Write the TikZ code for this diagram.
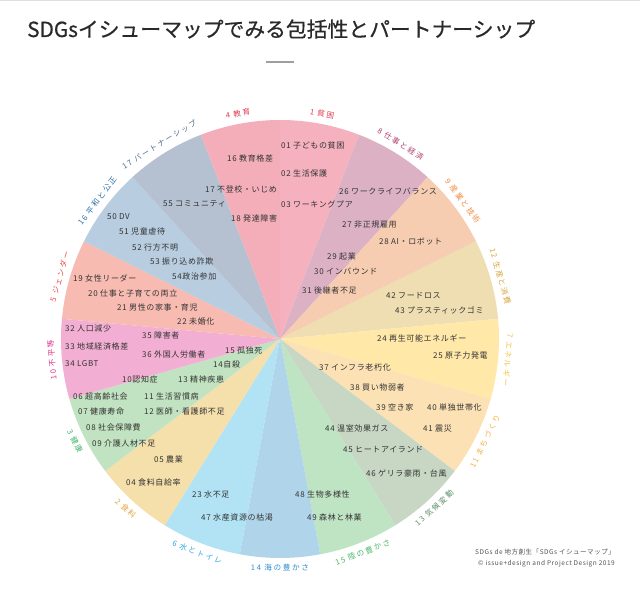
\documentclass[tikz,border=0pt]{standalone}
\usepackage{fontspec}
\setmainfont{Noto Sans CJK JP}
\newfontfamily\spacedfont[LetterSpace=8]{Noto Sans CJK JP}
\newfontfamily\widefont[LetterSpace=22]{Noto Sans CJK JP}
\newfontfamily\titlefont[FakeBold=0.5]{Noto Sans CJK JP}
\usetikzlibrary{calc, positioning}

%% sector fills
\definecolor{s1}{HTML}{F5B1BD}
\definecolor{s4}{HTML}{F4AEBA}
\definecolor{s8}{HTML}{DCB1C4}
\definecolor{s9}{HTML}{F7CDB1}
\definecolor{s12}{HTML}{EEDEB2}
\definecolor{s7}{HTML}{FFE8A8}
\definecolor{s11}{HTML}{FBE1B4}
\definecolor{s13}{HTML}{C7D7C4}
\definecolor{s15}{HTML}{BFE4C4}
\definecolor{s14}{HTML}{B0D5EB}
\definecolor{s6}{HTML}{B2E3F4}
\definecolor{s2}{HTML}{F5E0AB}
\definecolor{s3}{HTML}{C2E3C2}
\definecolor{s10}{HTML}{F3AFD3}
\definecolor{s5}{HTML}{F8BBB2}
\definecolor{s16}{HTML}{B8CDE0}
\definecolor{s17}{HTML}{B5C0D1}
%% goal label colours
\definecolor{l1}{HTML}{E23A4F}
\definecolor{l4}{HTML}{E23A4F}
\definecolor{l8}{HTML}{B0426E}
\definecolor{l9}{HTML}{F08A3C}
\definecolor{l12}{HTML}{D9A43C}
\definecolor{l7}{HTML}{F5C33A}
\definecolor{l11}{HTML}{F2B040}
\definecolor{l13}{HTML}{5E8F6A}
\definecolor{l15}{HTML}{4DB86A}
\definecolor{l14}{HTML}{2F8ED1}
\definecolor{l6}{HTML}{2FA8DF}
\definecolor{l2}{HTML}{E8A33D}
\definecolor{l3}{HTML}{3DB36B}
\definecolor{l10}{HTML}{E0358A}
\definecolor{l5}{HTML}{E8453C}
\definecolor{l16}{HTML}{2A6EA8}
\definecolor{l17}{HTML}{4C6E8E}
\definecolor{ink}{HTML}{333333}

\begin{document}
\begin{tikzpicture}[
    x=1pt, y=1pt,
    item/.style={anchor=west, inner sep=0pt, text=ink,
        font=\spacedfont\fontsize{8}{9}\selectfont},
    goal/.style={inner sep=0pt, font=\widefont\fontsize{7.6}{9}\selectfont},
    foot/.style={inner sep=0pt, text=ink!85, font=\spacedfont\fontsize{6.5}{8}\selectfont}
]
    \fill[white] (0,0) rectangle (640,-599);
    \useasboundingbox (0,0) rectangle (640,-599);
    \draw[gray!25] (0,-0.5) -- (640,-0.5);

    %% --- Title ---
    \node[anchor=base west, inner sep=0pt, text=ink!80!black,
          font=\titlefont\fontsize{20.8}{24}\selectfont] (title) at (27,-37)
          {SDGsイシューマップでみる包括性とパートナーシップ};
    \coordinate (d1) at (266,-62);
    \coordinate (d2) at (294,-62);
    \draw[line width=2pt, gray!75] (d1) -- (d2);

    %% --- Sectors and goal labels ---
    \coordinate (c) at (280,-339);
    \foreach \g/\lab [count=\k from 0] in {1/1 貧困, 8/8 仕事と経済, 9/9 産業と技術,
        12/12 生産と消費, 7/7 エネルギー, 11/11 まちづくり, 13/13 気候変動,
        15/15 陸の豊かさ, 14/14 海の豊かさ, 6/6 水とトイレ, 2/2 食料, 3/3 健康,
        10/10 不平等, 5/5 ジェンダー, 16/16 平和と公正, 17/17 パートナーシップ, 4/4 教育} {
        \pgfmathsetmacro\a{90-\k*360/17}
        \pgfmathsetmacro\b{90-(\k+1)*360/17}
        \pgfmathsetmacro\m{(\a+\b)/2}
        \pgfmathsetmacro\r{(\m<-15 && \m>-165) ? \m+90 : \m-90}
        \fill[s\g] (c) -- ($(c)+(\a:219)$) arc[start angle=\a, end angle=\b, radius=219] -- cycle;
        \node[goal, text=l\g, rotate=\r] (g\g) at ($(c)+(\m:229)$) {\lab};
    }

    %% --- Issues: top ---
    \node[item] (t01) at (281,-145) {01 子どもの貧困};
    \node[item] (t02) at (281,-173) {02 生活保護};
    \node[item] (t03) at (281,-204) {03 ワーキングプア};
    \node[item] (t16) at (227,-158) {16 教育格差};
    \node[item] (t17) at (205,-189) {17 不登校・いじめ};
    \node[item] (t18) at (231,-218) {18 発達障害};
    \node[item] (t55) at (163,-204) {55 コミュニティ};

    %% --- Issues: upper right ---
    \node[item] (t26) at (339,-191) {26 ワークライフバランス};
    \node[item] (t27) at (342,-225) {27 非正規雇用};
    \node[item] (t28) at (379,-242) {28 AI・ロボット};
    \node[item] (t29) at (327,-256) {29 起業};
    \node[item] (t30) at (314,-271) {30 インバウンド};
    \node[item] (t31) at (302,-290) {31 後継者不足};
    \node[item] (t42) at (386,-296) {42 フードロス};
    \node[item] (t43) at (395,-310) {43 プラスティックゴミ};
    \node[item] (t24) at (377,-338) {24 再生可能エネルギー};
    \node[item] (t25) at (433,-355) {25 原子力発電};

    %% --- Issues: lower right ---
    \node[item] (t37) at (319,-367) {37 インフラ老朽化};
    \node[item] (t38) at (350,-387) {38 買い物弱者};
    \node[item] (t39) at (376,-407) {39 空き家};
    \node[item] (t40) at (427,-407) {40 単独世帯化};
    \node[item] (t41) at (423,-428) {41 震災};
    \node[item] (t44) at (325,-428) {44 温室効果ガス};
    \node[item] (t45) at (343,-450) {45 ヒートアイランド};
    \node[item] (t46) at (366,-473) {46 ゲリラ豪雨・台風};
    \node[item] (t48) at (295,-494) {48 生物多様性};
    \node[item] (t49) at (307,-517) {49 森林と林業};

    %% --- Issues: lower left ---
    \node[item] (t47) at (201,-517) {47 水産資源の枯渇};
    \node[item] (t23) at (192,-494) {23 水不足};
    \node[item] (t04) at (126,-482) {04 食料自給率};
    \node[item] (t05) at (154,-459) {05 農業};
    \node[item] (t09) at (92,-443) {09 介護人材不足};
    \node[item] (t08) at (86,-427) {08 社会保障費};
    \node[item] (t07) at (78,-411) {07 健康寿命};
    \node[item] (t12) at (144,-411) {12 医師・看護師不足};
    \node[item] (t06) at (73,-396) {06 超高齢社会};
    \node[item] (t11) at (144,-396) {11 生活習慣病};
    \node[item] (t10) at (122,-379) {10認知症};
    \node[item] (t13) at (178,-379) {13 精神疾患};

    %% --- Issues: left ---
    \node[item] (t34) at (65,-364) {34 LGBT};
    \node[item] (t14) at (213,-364) {14自殺};
    \node[item] (t36) at (142,-354) {36 外国人労働者};
    \node[item] (t15) at (225,-350) {15 孤独死};
    \node[item] (t33) at (65,-346) {33 地域経済格差};
    \node[item] (t35) at (142,-335) {35 障害者};
    \node[item] (t32) at (65,-328) {32 人口減少};
    \node[item] (t22) at (177,-321) {22 未婚化};
    \node[item] (t21) at (117,-307) {21 男性の家事・育児};
    \node[item] (t20) at (88,-293) {20 仕事と子育ての両立};
    \node[item] (t19) at (73,-278) {19 女性リーダー};

    %% --- Issues: upper left ---
    \node[item] (t54) at (172,-276) {54政治参加};
    \node[item] (t53) at (150,-261) {53 振り込め詐欺};
    \node[item] (t52) at (132,-247) {52 行方不明};
    \node[item] (t51) at (119,-231) {51 児童虐待};
    \node[item] (t50) at (107,-217) {50 DV};

    %% --- Source ---
    \node[foot, anchor=east] (src1) at (615,-552) {SDGs de 地方創生「SDGs イシューマップ」};
    \node[foot, below=5pt of src1.south east, anchor=north east] (src2)
        {© issue+design and Project Design 2019};
\end{tikzpicture}
\end{document}
